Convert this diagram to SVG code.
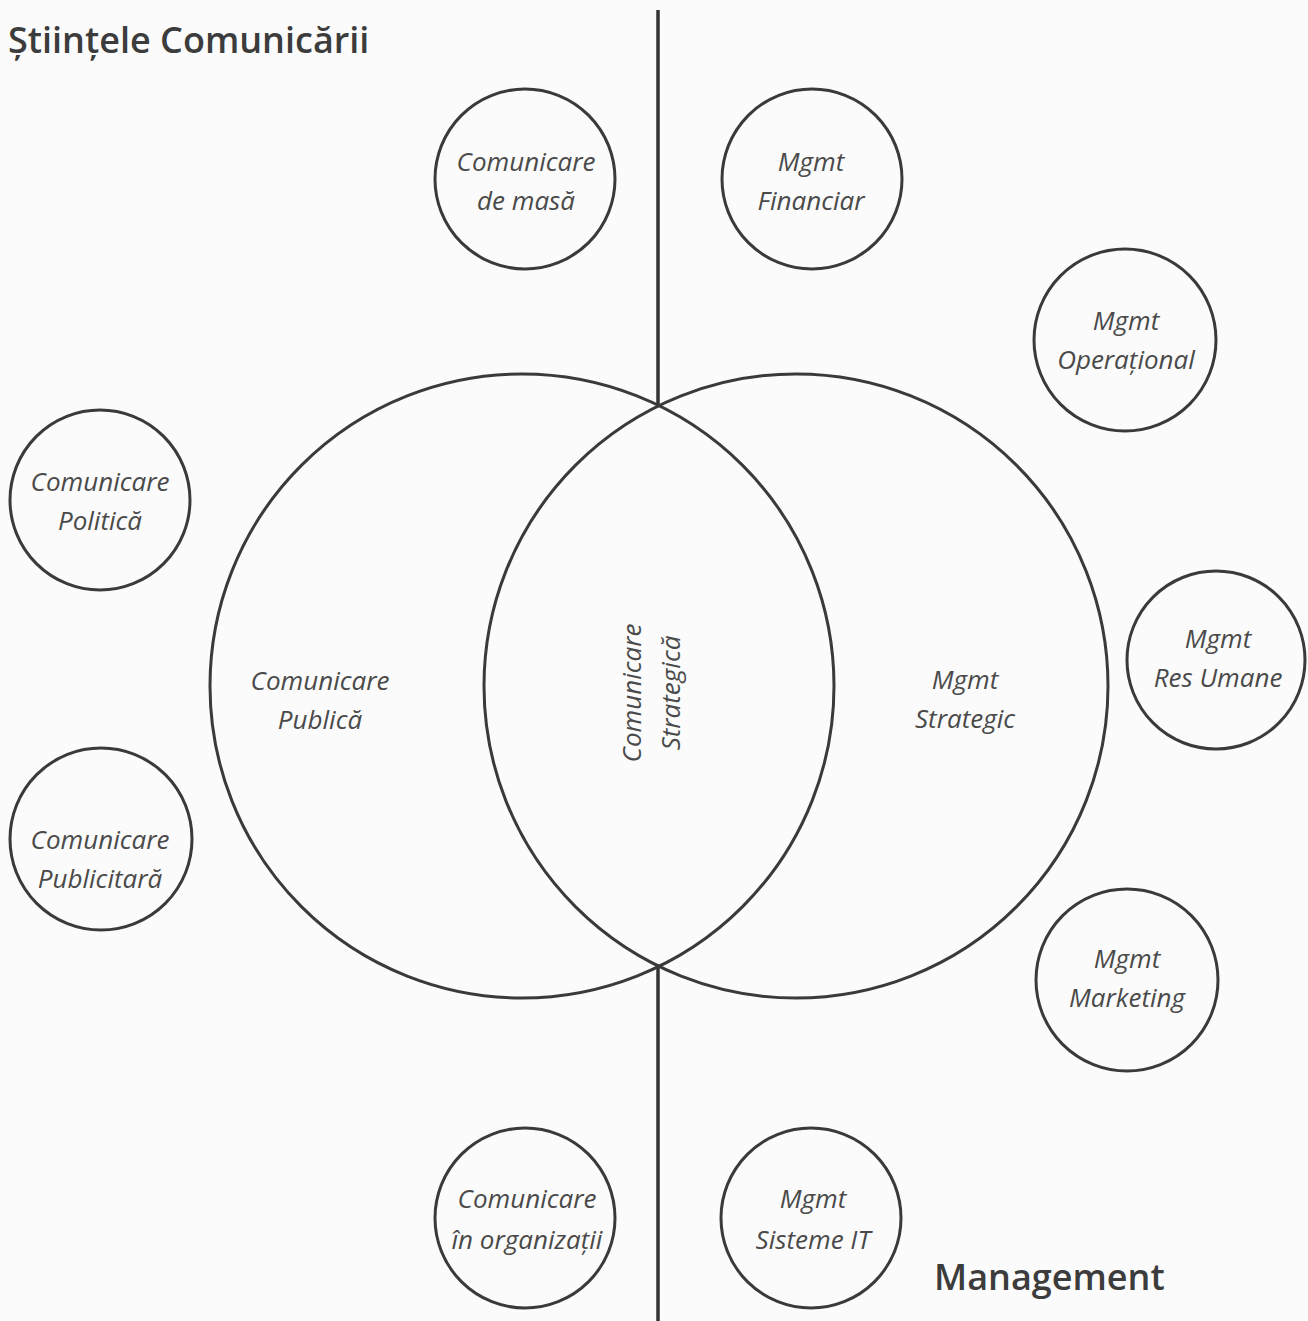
<svg xmlns="http://www.w3.org/2000/svg" width="1308" height="1321" viewBox="0 0 1308 1321">
  <style>
    .ring { fill: none; stroke: #3a3a3a; stroke-width: 3; }
    .axis { stroke: #333; stroke-width: 3.5; fill: none; }
    .lbl { font-family: "Open Sans", "Noto Sans", sans-serif; font-style: italic; font-size: 26px; fill: #4a4a4a; text-anchor: middle; }
    .title { font-family: "Open Sans", "Noto Sans", sans-serif; font-weight: 600; font-size: 36px; fill: #3c3c3c; }
  </style>
  <rect width="1308" height="1321" fill="#fbfbfb"/>

  <!-- central axis, interrupted by the overlap of the two large circles -->
  <g id="connectors">
    <line class="axis" x1="658" y1="10" x2="658" y2="405"/>
    <line class="axis" x1="658" y1="968" x2="658" y2="1321"/>
  </g>

  <text class="title" x="8" y="53">Științele Comunicării</text>
  <text class="title" x="934" y="1290">Management</text>

  <g id="comunicare-publica">
    <circle class="ring" cx="522" cy="686" r="312"/>
    <text class="lbl" x="320" y="690">Comunicare</text>
    <text class="lbl" x="320" y="729">Publică</text>
  </g>
  <g id="mgmt-strategic">
    <circle class="ring" cx="796" cy="686" r="312"/>
    <text class="lbl" x="965" y="689">Mgmt</text>
    <text class="lbl" x="965" y="728">Strategic</text>
  </g>
  <g id="comunicare-strategica">
    <text class="lbl" transform="translate(641 693) rotate(-90)" x="0" y="0">Comunicare</text>
    <text class="lbl" transform="translate(680 693) rotate(-90)" x="0" y="0">Strategică</text>
  </g>

  <g id="comunicare-de-masa">
    <circle class="ring" cx="525" cy="179" r="90"/>
    <text class="lbl" x="526" y="171">Comunicare</text>
    <text class="lbl" x="526" y="210">de masă</text>
  </g>
  <g id="mgmt-financiar">
    <circle class="ring" cx="812" cy="179" r="90"/>
    <text class="lbl" x="811" y="171">Mgmt</text>
    <text class="lbl" x="811" y="210">Financiar</text>
  </g>
  <g id="mgmt-operational">
    <circle class="ring" cx="1125" cy="340" r="91"/>
    <text class="lbl" x="1126" y="330">Mgmt</text>
    <text class="lbl" x="1126" y="369">Operațional</text>
  </g>
  <g id="comunicare-politica">
    <circle class="ring" cx="100" cy="500" r="90"/>
    <text class="lbl" x="100" y="491">Comunicare</text>
    <text class="lbl" x="100" y="530">Politică</text>
  </g>
  <g id="mgmt-res-umane">
    <circle class="ring" cx="1216" cy="660" r="89"/>
    <text class="lbl" x="1218" y="648">Mgmt</text>
    <text class="lbl" x="1218" y="687">Res Umane</text>
  </g>
  <g id="comunicare-publicitara">
    <circle class="ring" cx="101" cy="839" r="91"/>
    <text class="lbl" x="100" y="849">Comunicare</text>
    <text class="lbl" x="100" y="888">Publicitară</text>
  </g>
  <g id="mgmt-marketing">
    <circle class="ring" cx="1127" cy="980" r="91"/>
    <text class="lbl" x="1127" y="968">Mgmt</text>
    <text class="lbl" x="1127" y="1007">Marketing</text>
  </g>
  <g id="comunicare-in-organizatii">
    <circle class="ring" cx="525" cy="1218" r="90"/>
    <text class="lbl" x="527" y="1208">Comunicare</text>
    <text class="lbl" x="527" y="1249">în organizații</text>
  </g>
  <g id="mgmt-sisteme-it">
    <circle class="ring" cx="811" cy="1218" r="90"/>
    <text class="lbl" x="813" y="1208">Mgmt</text>
    <text class="lbl" x="813" y="1249">Sisteme IT</text>
  </g>
</svg>
